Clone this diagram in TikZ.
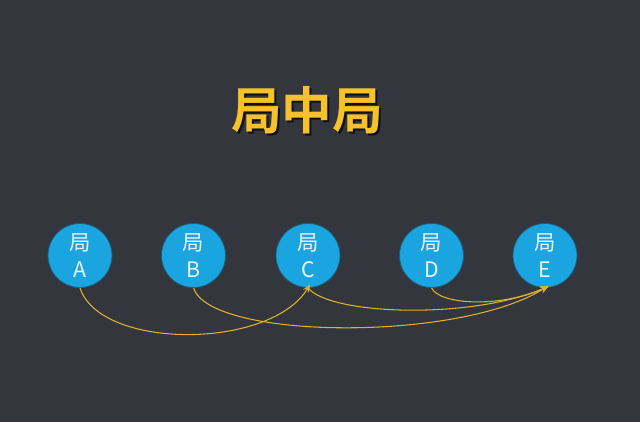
\documentclass[tikz,border=0pt]{standalone}
\usepackage{fontspec}
\newfontfamily\cjk{Noto Sans CJK SC}
\newfontfamily\cjkbold{Noto Sans CJK SC Bold}
\usetikzlibrary{arrows.meta}
\definecolor{bg}{HTML}{33363D}
\definecolor{ballblue}{HTML}{1AA5E0}
\definecolor{balledge}{HTML}{1D5F7E}
\definecolor{titlegold}{HTML}{F6C12A}
\definecolor{linkgold}{HTML}{DDB12E}
\definecolor{balltext}{HTML}{EAF6FC}
\tikzset{
  ball/.style={circle, fill=ballblue, draw=balledge, line width=0.6pt,
    minimum size=48pt, inner sep=0pt, text=balltext, align=center,
    font=\cjk\fontsize{16}{20}\selectfont},
  link/.style={draw=linkgold, line width=0.8pt,
    -{Stealth[length=6pt,width=5pt]}, shorten >=-3pt},
  title/.style={text=titlegold, font=\cjkbold\fontsize{38}{44}\selectfont}
}
\begin{document}
\begin{tikzpicture}[x=0.75pt,y=-0.75pt]
\fill[bg] (0,0) rectangle (640,422);
\useasboundingbox (0,0) rectangle (640,422);
\node[text=black!70!bg, font=\cjkbold\fontsize{38}{44}\selectfont] (tshadow) at (309,112) {局中局};
\node[title] (t) at (307,110) {局中局};
\node[ball] (A) at (80,255.5) {局\\A};
\node[ball] (B) at (193.5,255.5) {局\\B};
\node[ball] (C) at (308,255.5) {局\\C};
\node[ball] (D) at (431.5,255.5) {局\\D};
\node[ball] (E) at (545,255.5) {局\\E};
\draw[link] (A.south) .. controls (100,350) and (270,350) .. (C.south);
\draw[link] (B.south) .. controls (210,340) and (460,342) .. (E.south);
\draw[link] (C.south) .. controls (330,315) and (470,320) .. (E.south);
\draw[link] (D.south) .. controls (440,305) and (500,308) .. (E.south);
\end{tikzpicture}
\end{document}
